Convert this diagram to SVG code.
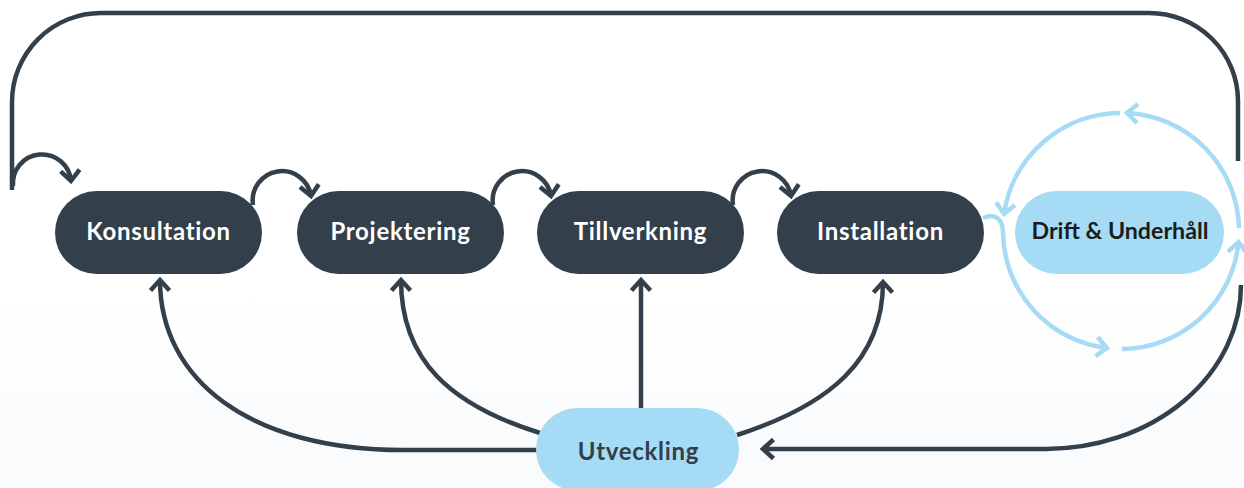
<svg xmlns="http://www.w3.org/2000/svg" width="1244" height="488" viewBox="0 0 1244 488">
  <defs>
    <linearGradient id="bg" x1="0" y1="0" x2="0" y2="1">
      <stop offset="0" stop-color="#ffffff"/>
      <stop offset="0.6" stop-color="#ffffff"/>
      <stop offset="1" stop-color="#f8fafc"/>
    </linearGradient>
    <marker id="ad" markerUnits="userSpaceOnUse" viewBox="-14 -14 20 28" refX="0" refY="0" markerWidth="20" markerHeight="28" orient="auto" overflow="visible">
      <path d="M-10.5,-9.5 L0,0 L-10.5,9.5" fill="none" stroke="#333f4a" stroke-width="4.5"/>
    </marker>
    <marker id="al" markerUnits="userSpaceOnUse" viewBox="-14 -14 20 28" refX="0" refY="0" markerWidth="20" markerHeight="28" orient="auto" overflow="visible">
      <path d="M-10.5,-9.5 L0,0 L-10.5,9.5" fill="none" stroke="#a6dbf5" stroke-width="4.5"/>
    </marker>
    <style>
      .dk { fill: #333f4a; }
      .lt { fill: #a6dbf5; }
      .lbl { font-family: Lato, "Liberation Sans", sans-serif; font-weight: 700; font-size: 24px; letter-spacing: 0.7px; text-anchor: middle; }
      .sm { font-size: 23.2px; letter-spacing: 0px; fill: #1c1c1c; }
      .w { fill: #ffffff; }
      .cd { fill: none; stroke: #333f4a; stroke-width: 4.5; }
      .cl { fill: none; stroke: #a6dbf5; stroke-width: 4.5; }
    </style>
  </defs>
  <rect x="0" y="0" width="1244" height="488" fill="url(#bg)"/>

  <g id="connectors">
    <path class="cd" d="M1238,161 V101 A89,88 0 0 0 1149,13 H101 A89,89 0 0 0 12,102 V190"/>
    <path class="cd" d="M13,186 A29,29 0 0 1 71,181" marker-end="url(#ad)"/>
    <path class="cd" d="M253,205 A29,29 0 1 1 311,196" marker-end="url(#ad)"/>
    <path class="cd" d="M493,205 A29,29 0 1 1 551,196" marker-end="url(#ad)"/>
    <path class="cd" d="M733,205 A29,29 0 1 1 791,196" marker-end="url(#ad)"/>
    <path class="cd" d="M538,450 H403 C250,450 160,380 160,280" marker-end="url(#ad)"/>
    <path class="cd" d="M540,433 C450,405 401,360 401,280" marker-end="url(#ad)"/>
    <path class="cd" d="M641,408 V280" marker-end="url(#ad)"/>
    <path class="cd" d="M737,435 C830,405 883,360 883,282" marker-end="url(#ad)"/>
    <path class="cd" d="M1241,285 A195,164 0 0 1 1046,449 H763" marker-end="url(#ad)"/>
    <path class="cl" d="M1239,228 A118,118 0 0 0 1127,113" marker-end="url(#al)"/>
    <path class="cl" d="M1120,113 A118,118 0 0 0 1004,214" marker-end="url(#al)"/>
    <path class="cl" d="M983,218 C996,212 1003,220 1003,233 A118,118 0 0 0 1107,348" marker-end="url(#al)"/>
    <path class="cl" d="M1122,349 A118,118 0 0 0 1238.5,242" marker-end="url(#al)"/>
  </g>

  <g id="konsultation">
    <rect class="dk" x="55" y="191" width="207" height="83" rx="41.5"/>
    <text class="lbl w" x="158.5" y="240">Konsultation</text>
  </g>
  <g id="projektering">
    <rect class="dk" x="297" y="191" width="207" height="83" rx="41.5"/>
    <text class="lbl w" x="400.5" y="240">Projektering</text>
  </g>
  <g id="tillverkning">
    <rect class="dk" x="537" y="191" width="207" height="83" rx="41.5"/>
    <text class="lbl w" x="640.5" y="240">Tillverkning</text>
  </g>
  <g id="installation">
    <rect class="dk" x="777" y="191" width="207" height="83" rx="41.5"/>
    <text class="lbl w" x="880.5" y="240">Installation</text>
  </g>
  <g id="drift">
    <rect class="lt" x="1015" y="191" width="209" height="83" rx="41.5"/>
    <text class="lbl sm" x="1120" y="239">Drift &amp; Underhåll</text>
  </g>
  <g id="utveckling">
    <rect class="lt" x="536" y="408" width="203" height="83" rx="41.5"/>
    <text class="lbl" x="638.5" y="460" fill="#333f4a">Utveckling</text>
  </g>
</svg>
